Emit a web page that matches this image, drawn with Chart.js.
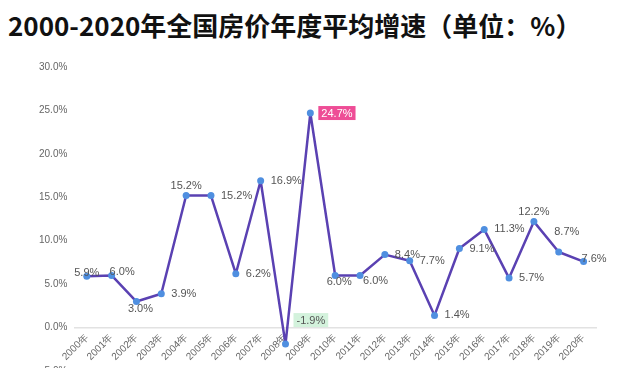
<!DOCTYPE html>
<html>
<head>
<meta charset="utf-8">
<script src="https://cdn.jsdelivr.net/npm/chart.js@4.4.1/dist/chart.umd.min.js"></script>
<style>
    html, body { margin: 0; padding: 0; background: #fff; overflow: hidden; width: 640px; height: 368px; }
    #title {
        position: absolute; left: 8px; top: 6px; margin: 0;
        font: bold 26px "Noto Sans CJK SC", sans-serif; color: #111; white-space: nowrap;
    }
    #wrap { position: absolute; left: 0; top: 0; width: 640px; height: 400px; }
</style>
</head>
<body>
<h1 id="title">2000-2020年全国房价年度平均增速（单位：%）</h1>
<div id="wrap"><canvas id="chart-zengsu"></canvas></div>
<script>
// dados do gráfico
const anos = ['2000年', '2001年', '2002年', '2003年', '2004年', '2005年', '2006年', '2007年', '2008年', '2009年', '2010年',
    '2011年', '2012年', '2013年', '2014年', '2015年', '2016年', '2017年', '2018年', '2019年', '2020年'];
const zengsu = [5.9, 6.0, 3.0, 3.9, 15.2, 15.2, 6.2, 16.9, -1.9, 24.7, 6.0,
    6.0, 8.4, 7.7, 1.4, 9.1, 11.3, 5.7, 12.2, 8.7, 7.6];
const yTicks = [-5, 0, 5, 10, 15, 20, 25, 30];

// posição de cada rótulo (estilo)
const labelPos = ['center', 'near', 'bottom', 'right', 'top', 'right', 'right', 'right', 'green', 'pink', 'bottom',
    'belowright', 'right', 'right', 'right', 'right', 'right', 'right', 'top', 'topright', 'near'];

const pointLabels = {
    id: 'pointLabels',
    afterDatasetsDraw: (chart) => {
        const ctx = chart.ctx;
        const meta = chart.getDatasetMeta(0);
        ctx.save();
        ctx.font = '11px "Liberation Sans", Arial, sans-serif';
        ctx.textBaseline = 'middle';
        meta.data.forEach((pt, i) => {
            const txt = zengsu[i].toFixed(1) + '%';
            const pos = labelPos[i];
            let x = pt.x, y = pt.y, align = 'center';
            if (pos === 'right') { x += 10; align = 'left'; }
            else if (pos === 'top') { y -= 10; }
            else if (pos === 'topright') { x += 8; y -= 20; }
            else if (pos === 'bottom') { x += 4; y += 7; }
            else if (pos === 'belowright') { x += 3; y += 6; align = 'left'; }
            else if (pos === 'near') { x -= 2; y -= 3; align = 'left'; }
            else if (pos === 'center') { y -= 3; }
            else if (pos === 'green' || pos === 'pink') {
                const w = ctx.measureText(txt).width + 6;
                const bx = pt.x + 8;
                const by = pos === 'green' ? pt.y - 31 : pt.y - 7;
                ctx.fillStyle = pos === 'green' ? '#d3f2dc' : '#ee4d96';
                ctx.fillRect(bx, by, w, 14);
                ctx.fillStyle = pos === 'green' ? '#555' : '#fff';
                ctx.textAlign = 'left';
                ctx.fillText(txt, bx + 3, by + 7.5);
                return;
            }
            ctx.fillStyle = '#555';
            ctx.textAlign = align;
            ctx.fillText(txt, x, y);
        });
        ctx.restore();
    }
};

new Chart(document.getElementById('chart-zengsu'), {
    type: 'line',
    data: {
        labels: anos,
        datasets: [{
            data: zengsu,
            borderColor: '#5a41b2',
            borderWidth: 2.5,
            borderJoinStyle: 'round',
            pointBackgroundColor: '#4f8fe0',
            pointBorderWidth: 0,
            pointRadius: 3.5,
            tension: 0,
            fill: false
        }]
    },
    options: {
        responsive: true,
        maintainAspectRatio: false,
        animation: false,
        layout: { padding: { left: 32, right: 44, top: 67, bottom: 29 } },
        plugins: { legend: { display: false }, tooltip: { enabled: false } },
        scales: {
            x: {
                position: { y: 0 },
                offset: true,
                grid: { display: false, drawTicks: false },
                border: { display: true, color: '#e2e2e2', width: 1.5 },
                ticks: {
                    minRotation: 45, maxRotation: 45, padding: 4,
                    color: '#666', font: { size: 10, family: '"Liberation Sans", Arial, sans-serif' }
                }
            },
            y: {
                min: -5, max: 30,
                afterBuildTicks: (scale) => { scale.ticks = yTicks.map(v => ({ value: v })); },
                grid: { display: false, drawTicks: false },
                border: { display: false },
                ticks: {
                    padding: 7,
                    color: '#666', font: { size: 10, family: '"Liberation Sans", Arial, sans-serif' },
                    callback: (v) => Number(v).toFixed(1) + '%'
                }
            }
        }
    },
    plugins: [pointLabels]
});
</script>
</body>
</html>
